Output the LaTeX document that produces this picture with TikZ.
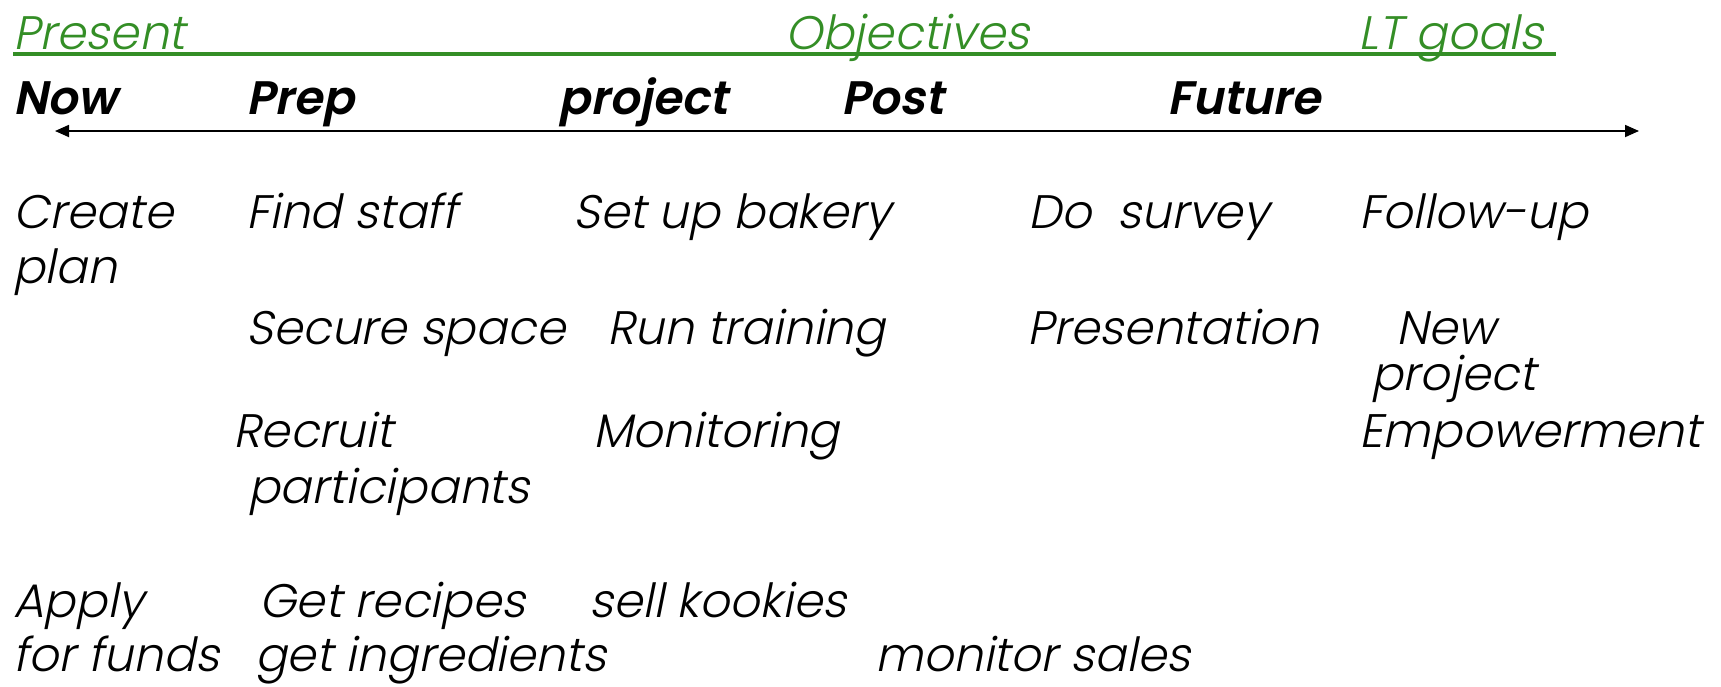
\documentclass[tikz,border=0pt]{standalone}
\usepackage{fontspec}
\setmainfont{Poppins Light}[FakeSlant=0.2]
\newfontfamily\hdrfont{Poppins SemiBold}[FakeSlant=0.2]
\usetikzlibrary{arrows.meta}
\definecolor{pgreen}{RGB}{52,142,38}
\begin{document}
\begin{tikzpicture}[x=1pt,y=-1pt,
  lbl/.style={anchor=base west,inner sep=0pt,font=\fontsize{47}{52}\selectfont},
  hdr/.style={lbl,font=\fontsize{47}{52}\selectfont\hdrfont},
  gl/.style={lbl,text=pgreen}]
\useasboundingbox (0,0) rectangle (1721,686);
% green headings
\node[gl] (present) at (13,49) {Present};
\node[gl] (objectives) at (785,49) {Objectives};
\node[gl] (ltgoals) at (1358,49) {LT goals};
\coordinate (gA) at (13,54);
\coordinate (gB) at (1556,54);
\draw[pgreen,line width=3.2pt] (gA) -- (gB);
% black headings
\node[hdr] (now) at (13,114) {Now};
\node[hdr] (prep) at (246,114) {Prep};
\node[hdr] (project) at (558,114) {project};
\node[hdr] (post) at (841,114) {Post};
\node[hdr] (future) at (1167,114) {Future};
\coordinate (aL) at (55,131);
\coordinate (aR) at (1639,131);
\draw[line width=1.8pt,{Triangle[length=14pt,width=12pt]}-{Triangle[length=14pt,width=12pt]}] (aL) -- (aR);
% row 1
\node[lbl] (create) at (13,228) {Create};
\node[lbl] (plan) at (13,283) {plan};
\node[lbl] (findstaff) at (246,228) {Find staff};
\node[lbl] (setup) at (573,228) {Set up bakery};
\node[lbl] (survey) at (1028,228) {Do\ \ survey};
\node[lbl] (follow) at (1359,228) {Follow-up};
% row 2
\node[lbl] (secure) at (246,344) {Secure space};
\node[lbl] (run) at (607,344) {Run training};
\node[lbl] (presentation) at (1027,344) {Presentation};
\node[lbl] (new) at (1396,344) {New};
\node[lbl] (newproject) at (1371,390) {project};
% row 3
\node[lbl] (recruit) at (233,447) {Recruit};
\node[lbl] (participants) at (248,503) {participants};
\node[lbl] (monitoring) at (593,447) {Monitoring};
\node[lbl] (empower) at (1359,447) {Empowerment};
% row 4
\node[lbl] (apply) at (13,617) {Apply};
\node[lbl] (funds) at (13,671) {for funds};
\node[lbl] (recipes) at (259,617) {Get recipes};
\node[lbl] (sell) at (589,617) {sell kookies};
\node[lbl] (ingredients) at (255,671) {get ingredients};
\node[lbl] (monsales) at (875,671) {monitor sales};
\end{tikzpicture}
\end{document}
